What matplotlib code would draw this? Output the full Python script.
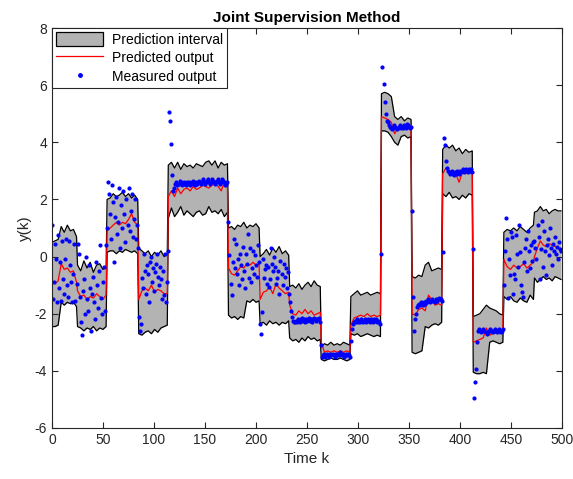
import numpy as np
import matplotlib
matplotlib.use('Agg')
from matplotlib import pyplot as plt
from matplotlib.patches import Patch
from matplotlib.lines import Line2D

plt.rcParams['font.family'] = ['Liberation Sans', 'DejaVu Sans']
plt.rcParams['axes.unicode_minus'] = False

# segment boundaries (time steps)
seg_start = [0, 25, 54, 85, 114, 173, 204, 233, 264, 293, 323, 353, 383, 413, 443, 473, 500]

# predicted output, one list per segment
red_seg = [
    [-0.9, -0.95, -0.85, -0.25, -0.45, -0.4, -0.55, -0.5, -0.9],
    [-1.2, -1.4, -1.35, -1.5, -1.4, -1.45, -1.3, -1.4, -1.5, -1.35],
    [0.9, 1.0, 1.1, 1.2, 1.1, 1.2, 1.15, 1.3, 1.5, 1.2, 1.1],
    [-1.5, -1.2, -1.1, -1.2, -1.0, -1.25, -1.15, -1.2, -1.3, -1.3],
    [2.1, 2.3, 2.1, 2.4, 2.2, 2.35, 2.4, 2.3, 2.45, 2.35, 2.4, 2.5, 2.45, 2.4, 2.5, 2.55, 2.45, 2.3, 2.6, 2.4],
    [-0.4, -0.6, -0.65, -0.5, -0.35, -0.4, -0.25, -0.3, -0.2, -0.3, -0.25],
    [-1.5, -1.25, -1.2, -1.05, -1.3, -0.95, -1.1, -1.2, -1.3, -1.25],
    [-1.7, -2.0, -2.05, -1.9, -2.0, -1.85, -2.0, -1.9, -2.05, -2.0, -1.95],
    [-3.0, -3.35, -3.3, -3.35, -3.3, -3.35, -3.3, -3.35, -3.3, -3.35],
    [-2.4, -2.15, -2.1, -2.05, -2.1, -2.0, -2.1, -2.05, -2.1, -2.05],
    [4.9, 4.85, 4.8, 4.7, 4.3, 4.5, 4.55, 4.5, 4.6, 4.55],
    [-2.0, -2.05, -1.85, -1.8, -1.9, -1.35, -1.5, -1.7, -1.65, -1.7],
    [2.9, 3.1, 3.0, 2.95, 2.9, 2.6, 2.95, 2.9, 2.95, 3.0],
    [-3.0, -2.95, -2.9, -2.85, -2.5, -2.75, -2.7, -2.65, -2.7, -2.65],
    [-0.1, -0.35, -0.45, -0.3, -0.4, -0.35, -0.25, -0.4, -0.3, -0.2],
    [0.0, 0.3, 0.55, 0.4, 0.35, 0.45, 0.4, 0.35, 0.3, 0.25],
]

# prediction interval bounds
upper_seg = [
    [0.5, 0.55, 0.6, 1.05, 0.85, 1.1, 0.9, 0.95, 0.7],
    [-0.3, -0.5, -0.15, -0.4, -0.2, -0.55, -0.3, -0.25, -0.45, -0.35],
    [2.0, 2.05, 2.2, 2.1, 2.15, 2.25, 2.1, 2.2, 2.05, 2.15, 2.0],
    [0.3, 0.2, 0.1, 0.2, 0.0, 0.15, 0.05, 0.2, 0.0, 0.1],
    [3.2, 3.3, 3.1, 3.3, 3.05, 3.25, 3.15, 3.2, 3.1, 3.25, 3.2, 3.15, 3.3, 3.35, 3.2, 3.35, 3.1, 3.3, 3.2, 3.25],
    [1.0, 1.05, 0.95, 1.1, 1.05, 1.2, 1.0, 1.1, 1.05, 1.15, 1.0],
    [0.0, 0.1, 0.25, 0.05, 0.3, 0.15, 0.35, 0.1, 0.2, 0.05],
    [-1.05, -1.0, -1.1, -0.95, -1.15, -1.0, -0.9, -1.05, -0.85, -1.0, -1.05],
    [-3.15, -3.05, -3.1, -3.0, -3.1, -3.05, -3.1, -3.0, -3.05, -3.1],
    [-1.4, -1.3, -1.2, -1.35, -1.3, -1.25, -1.35, -1.3, -1.25, -1.3],
    [5.7, 5.75, 5.7, 5.6, 4.9, 4.8, 4.9, 4.75, 4.85, 4.8],
    [-0.7, -0.75, -0.65, -0.7, -0.3, -0.2, -0.5, -0.45, -0.4, -0.45],
    [3.75, 3.9, 3.8, 3.9, 3.7, 3.8, 3.6, 3.75, 3.65, 3.7],
    [-2.1, -2.05, -2.0, -1.85, -1.7, -1.8, -1.85, -1.9, -2.0, -2.05],
    [0.85, 0.95, 0.9, 1.0, 0.9, 1.05, 0.95, 0.85, 1.0, 1.1],
    [1.55, 1.6, 1.75, 1.6, 1.65, 1.5, 1.6, 1.65, 1.6, 1.6],
]
lower_seg = [
    [-2.45, -2.45, -2.4, -1.6, -1.7, -1.6, -1.65, -1.6, -1.75],
    [-2.45, -2.5, -2.6, -2.5, -2.55, -2.45, -2.6, -2.5, -2.55, -2.45],
    [0.15, 0.2, 0.2, 0.1, 0.2, 0.15, 0.25, 0.2, 0.15, 0.2, 0.1],
    [-2.7, -2.75, -2.65, -2.6, -2.7, -2.55, -2.65, -2.5, -2.45, -2.4],
    [1.35, 1.7, 1.4, 1.55, 1.75, 1.45, 1.6, 1.5, 1.4, 1.55, 1.6, 1.45, 1.5, 1.75, 1.55, 1.6, 1.5, 1.65, 1.4, 1.55],
    [-2.05, -2.15, -2.1, -2.2, -2.1, -2.15, -1.55, -1.6, -1.5, -1.6, -1.55],
    [-2.35, -2.3, -2.4, -2.25, -2.35, -2.3, -2.4, -2.3, -2.35, -2.25],
    [-2.85, -2.95, -2.9, -3.0, -2.85, -2.95, -2.8, -2.9, -2.85, -2.95, -2.9],
    [-3.6, -3.65, -3.6, -3.55, -3.6, -3.6, -3.55, -3.6, -3.65, -3.6],
    [-2.7, -2.75, -2.7, -2.8, -2.75, -2.7, -2.75, -2.8, -2.75, -2.8],
    [4.4, 4.4, 4.35, 4.2, 4.0, 3.9, 4.2, 4.25, 4.15, 4.2],
    [-3.35, -3.4, -3.35, -3.3, -2.45, -2.5, -2.4, -2.35, -2.4, -2.3],
    [2.2, 2.1, 2.25, 2.05, 2.1, 2.0, 2.15, 2.05, 2.2, 2.15],
    [-4.05, -4.1, -4.1, -4.05, -4.1, -3.0, -2.95, -3.0, -3.05, -3.0],
    [-1.4, -1.5, -1.4, -1.55, -1.6, -1.45, -1.55, -1.6, -1.35, -1.5],
    [-0.75, -0.9, -0.8, -0.7, -0.8, -0.75, -0.85, -0.7, -0.75, -0.8],
]

# measured output
meas_seg = [
    [1.1, -1.5, -0.9, 0.45, -0.1, -1.6, 0.75, -1.1, -0.2, -1.55, 0.55, -0.8, -1.3, -0.1, 0.6,
     -1.0, -1.4, 0.55, -0.3, -0.9, -1.6, -0.6, 0.45, -1.55, -0.95],
    [0.45, 0.1, -1.4, -2.3, -2.75, -1.2, -0.8, -2.0, 0.0, -1.5, -1.9, -0.3, -1.1, -2.6, -1.3,
     -0.7, -1.6, -2.2, -0.2, -1.0, -1.8, -0.5, 0.4, -1.45, -2.0, -0.9, -0.35, -1.9, 0.4],
    [1.0, 2.6, 2.2, 1.5, 0.6, 2.5, 1.9, -0.2, 1.4, 2.1, 0.8, 1.2, 2.4, 0.3, 1.8, 1.0,
     2.3, 1.5, 0.5, 2.0, 1.1, 2.4, 0.9, 1.6, 2.2, 0.7, 1.3, 2.0, 0.6, 1.1, 0.3],
    [-2.1, -2.6, -2.35, -0.75, -1.1, 0.1, -0.5, -1.3, -0.3, -0.6, -1.6, -0.2, 0.0, -0.9, -0.4,
     -1.2, -0.55, -0.25, 0.1, -0.7, -1.0, -0.35, -0.8, -1.5, -0.5, -1.35, 0.1, -1.6, -0.9],
    [0.2, 5.05, 4.75, 3.95, 2.85, 2.3, 2.4, 2.55, 2.6, 2.5, 2.55, 2.65, 2.6, 2.5, 2.55, 2.6,
     2.55, 2.5, 2.6, 2.55, 2.6, 2.5, 2.55, 2.6, 2.65, 2.55, 2.5, 2.6, 2.55, 2.6, 2.65, 2.6,
     2.55, 2.6, 2.7, 2.6, 2.55, 2.6, 2.65, 2.7, 2.6, 2.55, 2.6, 2.7, 2.65, 2.6, 2.55, 2.6,
     2.65, 2.7, 2.6, 2.55, 2.6, 2.7, 2.65, 2.6, 2.5, 2.55, 2.6],
    [1.2, 0.05, -0.95, -1.35, -0.2, 0.6, -0.4, 0.45, -0.6, -0.1, -1.0, 0.1, -0.3, -0.8, 0.35,
     -0.5, -1.1, 0.1, -0.25, 0.8, -0.75, 0.3, -0.9, -0.4, 0.2, -0.6, 0.05, -0.3, -0.7, 0.4, -0.2],
    [-2.35, -2.7, -1.95, -0.1, -0.75, -0.45, -0.3, -0.95, -0.35, -1.05, -0.8, 0.3, -0.25, -0.5,
     0.0, -0.35, -0.95, -0.75, -0.5, -1.3, -0.15, -0.6, -1.0, -0.25, -0.7, -0.4, -1.1, -0.55, -1.3],
    [-1.6, -1.9, -2.1, -2.25, -2.3, -2.3, -2.25, -2.3, -2.2, -2.25, -2.3, -2.2, -2.15, -2.25,
     -2.2, -2.3, -2.2, -2.25, -2.2, -2.15, -2.25, -2.2, -2.3, -2.2, -2.15, -2.2, -2.25, -2.2,
     -2.2, -2.15, -2.3],
    [-3.1, -3.5, -3.45, -3.4, -3.5, -3.45, -3.4, -3.45, -3.5, -3.4, -3.45, -3.4, -3.45, -3.5,
     -3.4, -3.45, -3.4, -3.45, -3.35, -3.4, -3.45, -3.4, -3.5, -3.45, -3.4, -3.45, -3.4, -3.45, -3.5],
    [-2.95, -2.55, -2.35, -2.3, -2.25, -2.3, -2.2, -2.3, -2.25, -2.3, -2.2, -2.25, -2.3, -2.25,
     -2.2, -2.3, -2.25, -2.2, -2.25, -2.3, -2.2, -2.25, -2.3, -2.2, -2.25, -2.2, -2.3, -2.25,
     -2.3, -2.35],
    [0.1, 6.65, 6.05, 5.4, 5.0, 4.75, 4.7, 4.6, 4.55, 4.5, 4.45, 4.5, 4.6, 4.55, 4.5, 4.45,
     4.5, 4.55, 4.6, 4.5, 4.55, 4.5, 4.6, 4.55, 4.5, 4.65, 4.6, 4.55, 4.5, 4.55],
    [1.6, -1.4, -2.6, -2.2, -2.0, -1.75, -1.7, -1.65, -1.7, -1.6, -1.65, -1.7, -1.6, -1.65,
     -1.55, -1.6, -1.5, -1.55, -1.6, -1.55, -1.5, -1.55, -1.6, -1.5, -1.55, -1.5, -1.45, -1.5,
     -1.5, -1.55],
    [0.15, 4.15, 3.9, 3.35, 3.1, 3.0, 2.95, 2.9, 2.95, 3.0, 2.9, 2.85, 2.95, 2.9, 3.0, 2.95,
     2.9, 3.0, 2.95, 3.0, 3.05, 2.95, 3.0, 3.05, 3.0, 2.95, 3.05, 3.0, 3.05, 2.95],
    [0.25, -4.95, -4.4, -3.95, -3.0, -2.6, -2.55, -2.6, -2.65, -2.6, -2.55, -2.6, -2.65, -2.7,
     -2.65, -2.6, -2.55, -2.6, -2.6, -2.65, -2.6, -2.55, -2.6, -2.65, -2.6, -2.55, -2.6, -2.65,
     -2.6, -2.55],
    [-1.0, 0.2, 1.35, 0.6, -1.45, -0.1, -0.65, 0.85, 0.7, -1.3, -0.6, -0.8, 0.75, 0.1, -0.35,
     1.1, 0.15, -1.0, -1.25, -1.4, -0.2, 0.3, 0.6, -0.5, 0.9, 0.2, -0.4, 0.4, -0.15, 0.5],
    [0.55, 0.3, -0.1, 1.1, 0.7, -0.8, 0.25, 1.25, -0.35, 0.9, 0.2, -0.65, 0.4, 0.6, 0.05, 1.0,
     0.3, -0.3, 0.45, 0.2, 0.7, 0.1, 0.35, -0.1, 0.5, 0.25, 0.2],
]


def stitch(segs):
	# spread each segment's values over its own time steps
	ks, vs = [], []
	for i, vals in enumerate(segs):
		ks.append(np.linspace(seg_start[i], seg_start[i + 1] - 1, len(vals)))
		vs.append(np.asarray(vals, dtype=float))
	return np.concatenate(ks), np.concatenate(vs)


k_red, y_red = stitch(red_seg)
k_band, y_up = stitch(upper_seg)
_, y_lo = stitch(lower_seg)
k_meas, y_meas = stitch(meas_seg)

fig = plt.figure(figsize=(5.73, 4.79), dpi=100)
ax = fig.add_axes([0.0908, 0.1065, 0.890, 0.835])

ax.fill_between(k_band, y_lo, y_up, color='#b3b3b3', lw=0)
ax.plot(k_band, y_up, color='k', lw=0.9)
ax.plot(k_band, y_lo, color='k', lw=0.9)
ax.plot(k_red, y_red, color='#ff0000', lw=0.9)
ax.plot(k_meas, y_meas, '.', color='#0000ff', ms=4)

ax.set_xlim(0, 500)
ax.set_ylim(-6, 8)
ax.set_xticks(np.arange(0, 501, 50))
ax.set_yticks(np.arange(-6, 9, 2))
ax.tick_params(direction='in', top=True, right=True, labelsize=10, colors='#262626', length=4)
for s in ax.spines.values():
	s.set_color('#262626')
	s.set_linewidth(0.8)

ax.set_xlabel('Time k', fontsize=11, color='#262626')
ax.set_ylabel('y(k)', fontsize=11, color='#262626', labelpad=2)
ax.set_title('Joint Supervision Method', fontsize=11, fontweight='bold', pad=4)

handles = [
	Patch(facecolor='#b3b3b3', edgecolor='k', lw=0.9),
	Line2D([], [], color='#ff0000', lw=0.9),
	Line2D([], [], ls='none', marker='.', color='#0000ff', ms=5),
]
labels = ['Prediction interval', 'Predicted output', 'Measured output']
leg = ax.legend(handles, labels, loc='upper left', fontsize=10, fancybox=False,
	framealpha=1, edgecolor='#262626', borderaxespad=0, handlelength=3.4,
	handleheight=1.1, borderpad=0.3, labelspacing=0.3, handletextpad=0.6)
leg.get_frame().set_linewidth(0.8)

fig.savefig('out.png', dpi=100)
